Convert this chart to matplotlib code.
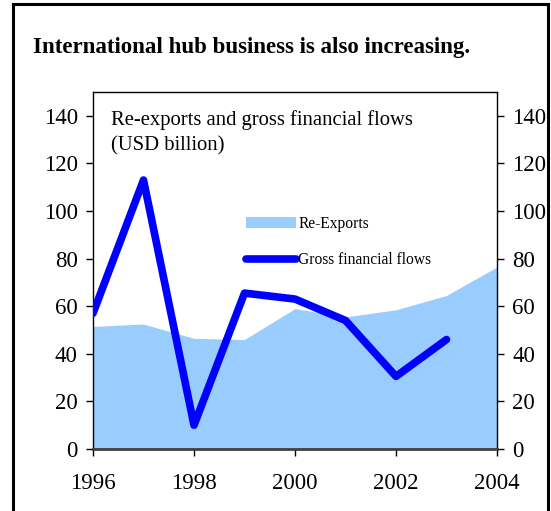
import matplotlib
matplotlib.use('Agg')
import matplotlib.pyplot as plt
from matplotlib.patches import Patch, Rectangle
from matplotlib.lines import Line2D

years = [1996, 1997, 1998, 1999, 2000, 2001, 2002, 2003, 2004]
re_exports = [51.5, 52.5, 46.5, 46, 59, 55.5, 58.5, 64.5, 76.5]
flow_years = [1996, 1997, 1998, 1999, 2000, 2001, 2002, 2003]
gross_flows = [57, 113, 10, 65.5, 63, 54, 30.5, 46]
y_ticks = [0, 20, 40, 60, 80, 100, 120, 140]
x_ticks = [1996, 1998, 2000, 2002, 2004]

plt.rcParams['font.family'] = ['Liberation Serif', 'DejaVu Serif']

fig = plt.figure(figsize=(5.51, 5.11), dpi=100)
ax = fig.add_axes([93 / 551, 1 - 449 / 511, 404 / 551, 357 / 511])

area_color = '#99CCFF'
line_color = '#0000FF'

ax.fill_between(years, 0, re_exports, color=area_color, lw=0, zorder=1)
ax.plot(flow_years, gross_flows, color=line_color, lw=5.5,
        solid_capstyle='round', zorder=3)

ax.set_xlim(1996, 2004)
ax.set_ylim(0, 150)
ax.set_xticks(x_ticks)
ax.set_yticks(y_ticks)
ax.tick_params(axis='both', direction='out', length=5, width=1,
               labelsize=16.5, pad=6)
ax.tick_params(axis='y', right=True, labelright=True)
ax.tick_params(axis='x', pad=12)

for side in ['top', 'right', 'left']:
    ax.spines[side].set_linewidth(1)
ax.spines['bottom'].set_linewidth(2)
ax.spines['bottom'].set_color('#404040')

ax.text(0.045, 0.95, 'Re-exports and gross financial flows\n(USD billion)',
        transform=ax.transAxes, fontsize=14.9, va='top', ha='left',
        linespacing=1.45)

handles = [Patch(facecolor=area_color, edgecolor='none'),
           Line2D([0], [0], color=line_color, lw=5.5, solid_capstyle='round')]
leg = ax.legend(handles, ['Re-Exports', 'Gross financial flows'],
                loc='upper left', bbox_to_anchor=(0.36, 0.675), frameon=False,
                fontsize=11.2, handlelength=3.2, handletextpad=0.15,
                labelspacing=1.3, borderpad=0)

fig.text(33 / 551, 1 - 47 / 511, 'International hub business is also increasing.',
         fontsize=16.5, fontweight='bold', va='center', ha='left')

frame = Rectangle((13 / 551, -0.1), (548 - 13) / 551, 1.1 - 4 / 511,
                  transform=fig.transFigure, fill=False, lw=2.2,
                  edgecolor='black')
fig.patches.append(frame)

fig.savefig('out.png', dpi=100)
